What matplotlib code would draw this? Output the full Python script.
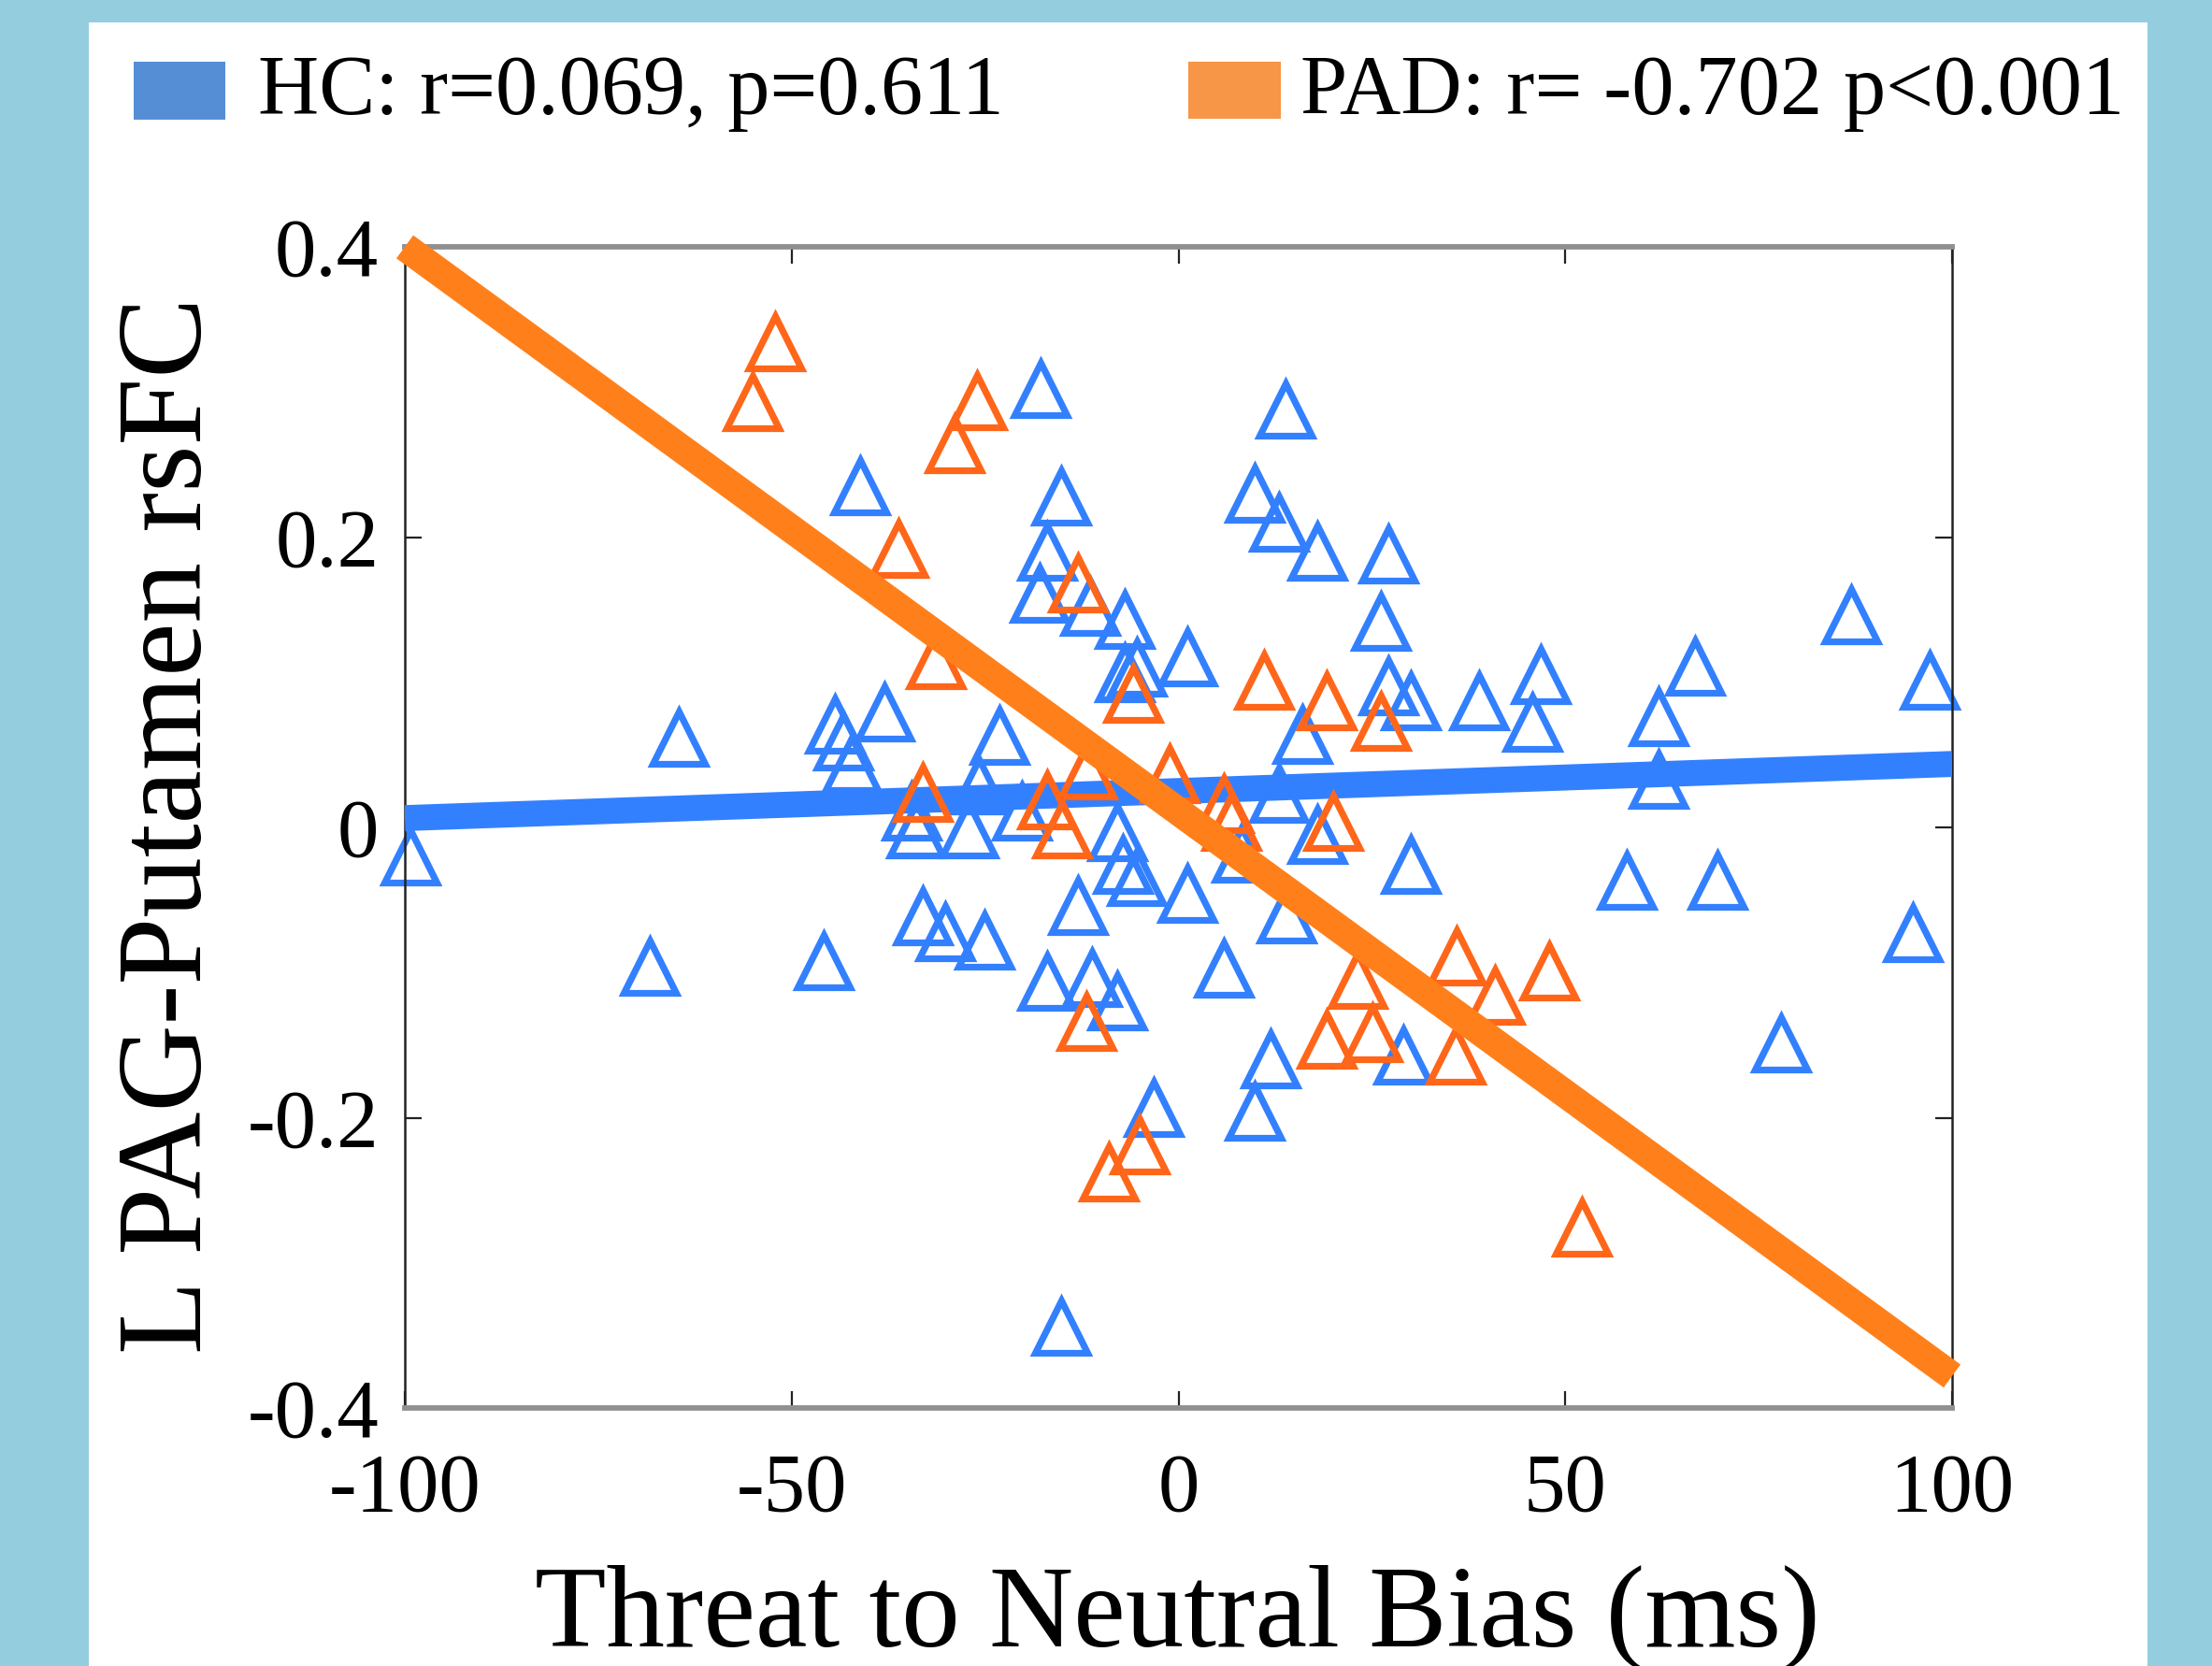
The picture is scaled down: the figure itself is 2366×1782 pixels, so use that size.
import matplotlib
matplotlib.use("Agg")
import matplotlib.pyplot as plt
from matplotlib.patches import Rectangle

# ---------------- data ----------------
hc_x = [-99.3, -64.6, -68.3, -45.9, -41.1, -44.4, -43.3, -42.2, -38.0,
        -34.5, -33.9, -27.1, -20.2, -33.1, -30.2, -25.1, -25.8, -23.1,
        -17.8, -15.2, -17.0, -18.0, -11.4, -7.0, -5.4, -7.0, 1.2,
        -17.0, -13.0, -11.2, -7.9, -7.9, -7.2, -5.4, -3.2, -15.2, 1.2,
        5.9, 8.1, 9.9, 13.0, 13.8, 18.0, 16.0, 13.0, 13.9, 18.0, 11.9, 9.8,
        27.1, 26.2, 27.1, 30.0, 30.0, 29.1, 38.9, 45.7, 46.8, 57.9, 62.1,
        62.1, 66.8, 69.7, 77.9, 86.9, 94.9, 97.1]
hc_y = [-0.020, 0.062, -0.096, -0.092, 0.235, 0.071, 0.059, 0.044, 0.079,
        0.011, -0.001, -0.001, 0.011, -0.061, -0.072, -0.078, 0.029, 0.063,
        0.302, 0.228, 0.190, 0.161, 0.152, 0.143, 0.110, 0.106, 0.117,
        -0.106, -0.054, -0.104, -0.120, -0.003, -0.026, -0.034, -0.193, -0.344, -0.046,
        -0.097, -0.018, 0.230, 0.210, 0.288, 0.190, 0.064, 0.023, -0.060, -0.005, -0.160, -0.196,
        0.188, 0.142, 0.097, 0.087, -0.026, -0.157, 0.087, 0.072, 0.105, -0.037, 0.076,
        0.033, 0.111, -0.037, -0.149, 0.146, -0.073, 0.101]

pad_x = [-52.1, -55.0, -26.0, -28.9, -36.2, -31.4, -33.1, -13.0, -5.9, -11.8,
         -17.0, -15.0, -1.2, -11.9, -9.0, -5.0, 5.9, 6.8, 11.0, 19.1,
         26.2, 20.0, 23.1, 19.1, 25.1, 36.0, 40.9, 35.8, 47.9, 52.1]
pad_y = [0.334, 0.293, 0.294, 0.264, 0.192, 0.115, 0.024, 0.168, 0.092, 0.039,
         0.019, -0.001, 0.037, -0.134, -0.238, -0.219, 0.016, 0.004, 0.101, 0.087,
         0.073, 0.004, -0.105, -0.146, -0.142, -0.089, -0.116, -0.157, -0.099, -0.276]

fit_x = [-100, 100]
hc_fit_y = [0.0064, 0.0437]
pad_fit_y = [0.400, -0.378]

x_ticks = [-100, -50, 0, 50, 100]
x_tick_labels = ['-100', '-50', '0', '50', '100']
y_ticks = [-0.4, -0.2, 0, 0.2, 0.4]
y_tick_labels = ['-0.4', '-0.2', '0', '0.2', '0.4']

hc_label = 'HC: r=0.069, p=0.611'
pad_label = 'PAD: r= -0.702 p<0.001'
x_label = 'Threat to Neutral Bias (ms)'
y_label = 'L PAG-Putamen rsFC'

# ---------------- style ----------------
W, H, DPI = 2366, 1782, 200
plt.rcParams['font.family'] = ['Liberation Serif', 'DejaVu Serif']
plt.rcParams['axes.unicode_minus'] = False

bg = '#94CDDE'
blue = '#3380FF'
orange_m = '#FF6619'
orange_l = '#FF801A'

fig = plt.figure(figsize=(W / DPI, H / DPI), dpi=DPI, facecolor=bg)
fig.patches.append(Rectangle((95 / W, 0), (2297 - 95) / W, 1 - 24 / H,
                             transform=fig.transFigure, facecolor='white',
                             edgecolor='none', zorder=-10))

ax = fig.add_axes([433 / W, 1 - 1506 / H, (2088 - 433) / W, (1506 - 264) / H])
ax.set_zorder(2)
ax.set_facecolor('white')

ms, mew = 20, 2.6
ax.plot(hc_x, hc_y, linestyle='none', marker='^', markersize=ms,
        markerfacecolor='none', markeredgecolor=blue, markeredgewidth=mew,
        zorder=2, clip_on=False)
ax.plot(fit_x, hc_fit_y, color=blue, linewidth=10, solid_capstyle='butt', zorder=3)
ax.plot(pad_x, pad_y, linestyle='none', marker='^', markersize=ms,
        markerfacecolor='none', markeredgecolor=orange_m, markeredgewidth=mew,
        zorder=4, clip_on=False)
ax.plot(fit_x, pad_fit_y, color=orange_l, linewidth=11, solid_capstyle='butt',
        zorder=5, clip_on=False)

ax.set_xlim(-100, 100)
ax.set_ylim(-0.4, 0.4)
ax.set_xticks(x_ticks)
ax.set_xticklabels(x_tick_labels)
ax.set_yticks(y_ticks)
ax.set_yticklabels(y_tick_labels)

ax.tick_params(axis='both', direction='in', length=6.5, width=0.8, color='#222222',
               top=True, right=True, labelsize=32)
ax.tick_params(axis='x', pad=17)
ax.tick_params(axis='y', pad=10)

for s in ['top', 'bottom']:
    ax.spines[s].set_color('#909090')
    ax.spines[s].set_linewidth(2.1)
for s in ['left', 'right']:
    ax.spines[s].set_color('#222222')
    ax.spines[s].set_linewidth(0.9)

# axis labels
fig.text(1259 / W, 1 - 1760 / H, x_label, ha='center', va='baseline', fontsize=45)
fig.text(184 / W, 1 - 883 / H, y_label, ha='center', va='center', rotation=90, fontsize=46.5)

# legend
fig.patches.append(Rectangle((143 / W, 1 - 128 / H), 98 / W, 62 / H,
                             transform=fig.transFigure, facecolor='#568ED6',
                             edgecolor='none', zorder=1))
fig.patches.append(Rectangle((1271 / W, 1 - 127 / H), 99 / W, 61 / H,
                             transform=fig.transFigure, facecolor='#F79646',
                             edgecolor='none', zorder=1))
fig.text(276 / W, 1 - 122 / H, hc_label, ha='left', va='baseline', fontsize=32.5)
fig.text(1391 / W, 1 - 122 / H, pad_label, ha='left', va='baseline', fontsize=32.6)

fig.savefig('out.png', dpi=DPI, facecolor=bg)
